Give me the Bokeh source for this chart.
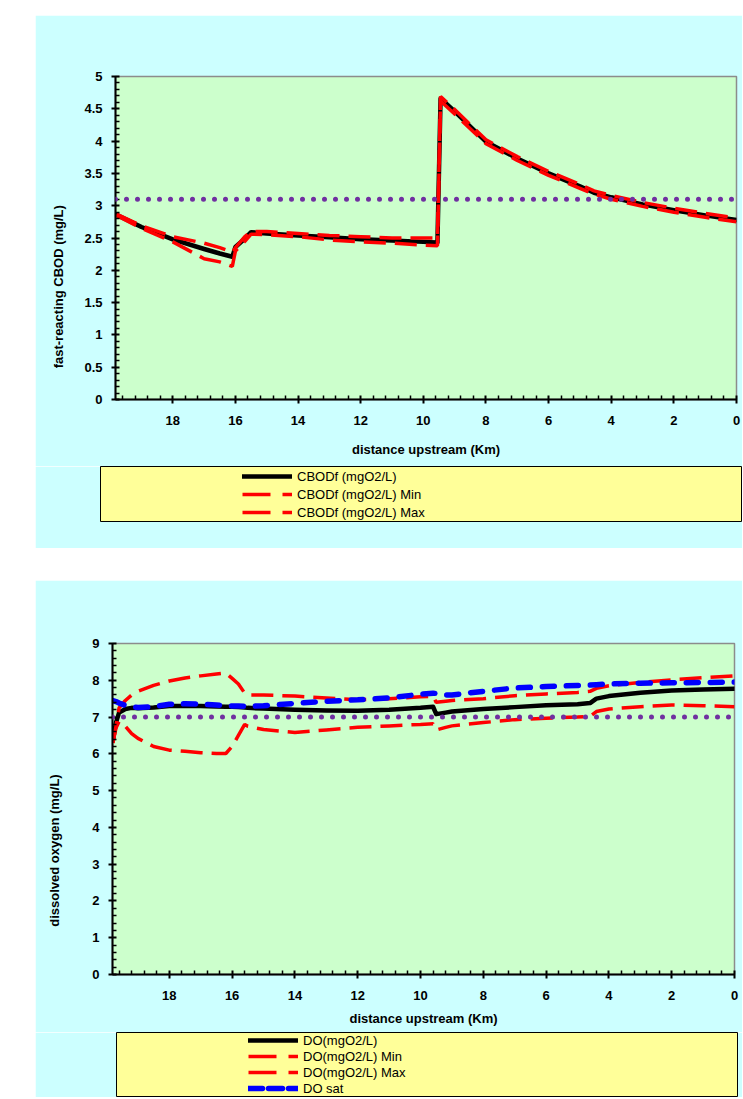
from bokeh.plotting import figure
from bokeh.models import Range1d, FixedTicker, Span, Legend, LegendItem, ColumnDataSource
from bokeh.layouts import column
from bokeh.embed import file_html
from bokeh.resources import INLINE

# ---------------- data ----------------
cbod_km = [19.8, 19.0, 18.0, 17.0, 16.5, 16.1, 16.0, 15.7, 15.5, 15.0, 14.0, 13.0, 12.0, 11.0,
           10.0, 9.55, 9.45, 9.0, 8.0, 7.0, 6.0, 5.0, 4.55, 4.0, 3.0, 2.0, 1.0, 0.0]
cbod_mean = [2.86, 2.67, 2.48, 2.33, 2.26, 2.21, 2.36, 2.49, 2.59, 2.57, 2.54, 2.51, 2.48, 2.46,
             2.44, 2.43, 4.66, 4.46, 3.99, 3.73, 3.50, 3.30, 3.20, 3.13, 3.02, 2.93, 2.85, 2.78]
cbod_min = [2.85, 2.65, 2.44, 2.18, 2.13, 2.06, 2.30, 2.45, 2.56, 2.55, 2.52, 2.47, 2.44, 2.42,
            2.39, 2.38, 4.62, 4.42, 3.96, 3.70, 3.47, 3.27, 3.18, 3.10, 2.99, 2.90, 2.82, 2.75]
cbod_max = [2.87, 2.69, 2.52, 2.42, 2.35, 2.28, 2.35, 2.52, 2.60, 2.60, 2.57, 2.54, 2.52, 2.50,
            2.50, 2.50, 4.69, 4.49, 4.02, 3.76, 3.53, 3.33, 3.23, 3.16, 3.05, 2.96, 2.88, 2.81]
cbod_standard = 3.1

do_km = [19.8, 19.7, 19.6, 19.4, 19.2, 19.0, 18.5, 18.0, 17.5, 17.0, 16.5, 16.2, 16.0, 15.8,
         15.6, 15.5, 15.0, 14.0, 13.0, 12.0, 11.0, 10.0, 9.6, 9.5, 9.2, 9.0, 8.0, 7.0, 6.0,
         5.0, 4.6, 4.4, 4.0, 3.0, 2.0, 1.0, 0.0]
do_mean = [6.36, 6.85, 7.12, 7.22, 7.25, 7.24, 7.26, 7.30, 7.30, 7.30, 7.29, 7.28, 7.28, 7.27,
           7.26, 7.25, 7.23, 7.20, 7.18, 7.17, 7.20, 7.25, 7.28, 7.08, 7.12, 7.15, 7.22, 7.27,
           7.32, 7.35, 7.38, 7.50, 7.57, 7.66, 7.72, 7.75, 7.77]
do_min = [6.30, 6.70, 6.88, 6.75, 6.55, 6.42, 6.20, 6.10, 6.07, 6.03, 6.01, 6.01, 6.20, 6.50,
          6.80, 6.75, 6.66, 6.58, 6.65, 6.72, 6.76, 6.80, 6.82, 6.65, 6.72, 6.76, 6.85, 6.93,
          6.97, 7.00, 7.02, 7.15, 7.22, 7.28, 7.33, 7.31, 7.28]
do_max = [6.30, 6.75, 7.25, 7.45, 7.60, 7.70, 7.86, 7.98, 8.06, 8.12, 8.17, 8.20, 8.05, 7.90,
          7.65, 7.60, 7.60, 7.57, 7.52, 7.47, 7.50, 7.55, 7.57, 7.40, 7.43, 7.45, 7.50, 7.58,
          7.63, 7.67, 7.70, 7.78, 7.85, 7.94, 8.01, 8.07, 8.12]
do_sat = [7.45, 7.42, 7.38, 7.32, 7.28, 7.26, 7.28, 7.35, 7.36, 7.35, 7.33, 7.31, 7.30, 7.30,
          7.29, 7.29, 7.31, 7.37, 7.43, 7.47, 7.52, 7.62, 7.65, 7.64, 7.60, 7.60, 7.70, 7.79,
          7.83, 7.86, 7.87, 7.88, 7.90, 7.92, 7.93, 7.94, 7.95]
do_standard = 7.0

x_tick_values = [0, 2, 4, 6, 8, 10, 12, 14, 16, 18]
x_tick_labels = ["0", "2", "4", "6", "8", "10", "12", "14", "16", "18"]
cbod_tick_values = [0, 0.5, 1, 1.5, 2, 2.5, 3, 3.5, 4, 4.5, 5]
cbod_tick_labels = ["0", "0.5", "1", "1.5", "2", "2.5", "3", "3.5", "4", "4.5", "5"]
do_tick_values = [0, 1, 2, 3, 4, 5, 6, 7, 8, 9]
do_tick_labels = ["0", "1", "2", "3", "4", "5", "6", "7", "8", "9"]

x_title = "distance upstream (Km)"
cbod_title = "fast-reacting CBOD (mg/L)"
do_title = "dissolved oxygen (mg/L)"
cbod_labels = ["CBODf (mgO2/L)", "CBODf (mgO2/L) Min", "CBODf (mgO2/L) Max"]
do_labels = ["DO(mgO2/L)", "DO(mgO2/L) Min", "DO(mgO2/L) Max", "DO sat"]

# ---------------- styles ----------------
CYAN = "#CCFFFF"
GREEN = "#CCFFCC"
YELLOW = "#FFFF99"
PURPLE = "#7030A0"
FONT = "Liberation Sans"
NBSP = "\u00a0"
MEAN_STYLE = dict(line_color="black", line_width=4.5, line_join="round", line_cap="round")
RED_STYLE = dict(line_color="red", line_width=3.5, line_dash="22 9")
RED_KEY_STYLE = dict(line_color="red", line_width=3.5, line_dash="28 12")
BLUE_STYLE = dict(line_color="blue", line_width=5.5, line_dash="12 12", line_cap="round")
BLUE_KEY_STYLE = dict(line_color="blue", line_width=5.5, line_dash="14 6", line_cap="round")
STD_STYLE = dict(line_color=PURPLE, line_width=5, line_dash="0 11", line_cap="round")

x_minor = [round(0.4 * i, 1) for i in range(1, 50) if i % 5 != 0]
cbod_minor = [round(0.1 * i, 1) for i in range(1, 50) if i % 5 != 0]
do_minor = [round(0.2 * i, 1) for i in range(1, 45) if i % 5 != 0]


def make_fig(width, height, x_start, y_end, bl, br, bt, bb):
    p = figure(width=width, height=height, x_range=Range1d(x_start, 0),
               y_range=Range1d(0, y_end), output_backend="svg", toolbar_location=None,
               min_border_left=bl, min_border_right=br, min_border_top=bt,
               min_border_bottom=bb)
    p.frame_align = False
    p.border_fill_color = CYAN
    p.background_fill_color = GREEN
    p.outline_line_color = "#8C8C8C"
    p.outline_line_width = 1.5
    p.xgrid.visible = False
    p.ygrid.visible = False
    for ax in (p.xaxis[0], p.yaxis[0]):
        ax.axis_line_width = 2
        ax.axis_line_color = "black"
        ax.major_tick_in = 4
        ax.major_tick_out = 4
        ax.major_tick_line_width = 2
        ax.minor_tick_in = 4
        ax.minor_tick_out = 0
        ax.minor_tick_line_width = 1.5
        ax.major_label_text_font = FONT
        ax.major_label_text_font_size = "13px"
        ax.major_label_text_font_style = "bold"
        ax.major_label_text_color = "black"
        ax.axis_label_text_font = FONT
        ax.axis_label_text_font_size = "13px"
        ax.axis_label_text_font_style = "bold"
        ax.axis_label_text_color = "black"
    return p


def style_x(p, standoff_title):
    ax = p.xaxis[0]
    ax.ticker = FixedTicker(ticks=x_tick_values, minor_ticks=x_minor)
    ax.major_label_overrides = {float(v): t for v, t in zip(x_tick_values, x_tick_labels)}
    ax.major_label_standoff = 12
    ax.axis_label = x_title
    ax.axis_label_standoff = standoff_title


def style_y(p, ticks, labels, minor, title, shift_spaces, standoff_title):
    ax = p.yaxis[0]
    ax.ticker = FixedTicker(ticks=ticks, minor_ticks=minor)
    ax.major_label_overrides = {float(v): t for v, t in zip(ticks, labels)}
    ax.major_label_standoff = 9
    # the original title sits below the axis centre: pad its far end
    ax.axis_label = title + NBSP * shift_spaces
    ax.axis_label_standoff = standoff_title


def legend_fig(width, height, bl, br, bt, bb, labels, source, columns, styles, loc, row_h):
    # separate key panel; its ranges keep the series themselves out of view
    f = figure(width=width, height=height, x_range=Range1d(100, 101),
               y_range=Range1d(100, 101), x_axis_type=None, y_axis_type=None,
               output_backend="svg", toolbar_location=None, min_border_left=bl,
               min_border_right=br, min_border_top=bt, min_border_bottom=bb)
    f.frame_align = False
    f.border_fill_color = CYAN
    f.background_fill_color = YELLOW
    f.outline_line_color = "black"
    f.outline_line_width = 1
    f.grid.visible = False
    rends = [f.line("km", c, source=source, **s) for c, s in zip(columns, styles)]
    leg = Legend(items=[LegendItem(label=l, renderers=[r]) for l, r in zip(labels, rends)],
                 location=loc, orientation="vertical", padding=0, spacing=0, margin=0,
                 glyph_width=50, glyph_height=row_h, label_height=row_h, label_standoff=5,
                 label_text_font=FONT, label_text_font_size="13px",
                 label_text_color="black", background_fill_alpha=0, border_line_alpha=0)
    f.add_layout(leg)
    return f


# ---------------- top chart ----------------
p1 = make_fig(707, 451, 19.83, 5, 80, 6, 61, 67)
style_x(p1, 14)
style_y(p1, cbod_tick_values, cbod_tick_labels, cbod_minor, cbod_title, 27, 15)
src1 = ColumnDataSource(dict(km=cbod_km, mean=cbod_mean, mn=cbod_min, mx=cbod_max))
p1.line("km", "mean", source=src1, **MEAN_STYLE)
p1.line("km", "mn", source=src1, **RED_STYLE)
p1.line("km", "mx", source=src1, **RED_STYLE)
p1.add_layout(Span(location=cbod_standard, dimension="width", **STD_STYLE))
lf1 = legend_fig(707, 82, 65, 0, 0, 27, cbod_labels, src1, ["mean", "mn", "mx"],
                 [MEAN_STYLE, RED_KEY_STYLE, RED_KEY_STYLE], (142, 0), 18)

# ---------------- bottom chart ----------------
p2 = make_fig(707, 452, 19.81, 9, 77, 8, 63, 58)
style_x(p2, 8)
style_y(p2, do_tick_values, do_tick_labels, do_minor, do_title, 23, 27)
src2 = ColumnDataSource(dict(km=do_km, mean=do_mean, mn=do_min, mx=do_max, sat=do_sat))
p2.line("km", "mean", source=src2, **MEAN_STYLE)
p2.line("km", "mn", source=src2, **RED_STYLE)
p2.line("km", "mx", source=src2, **RED_STYLE)
p2.line("km", "sat", source=src2, **BLUE_STYLE)
p2.add_layout(Span(location=do_standard, dimension="width", **STD_STYLE))
lf2 = legend_fig(707, 65, 81, 5, 0, 1, do_labels, src2, ["mean", "mn", "mx", "sat"],
                 [MEAN_STYLE, RED_KEY_STYLE, RED_KEY_STYLE, BLUE_KEY_STYLE], (132, 0), 16)

p1.margin = (15, 0, 0, 35)
lf1.margin = (0, 0, 0, 35)
p2.margin = (32, 0, 0, 35)
lf2.margin = (0, 0, 0, 35)
layout = column(p1, lf1, p2, lf2)

open("out.html", "w").write(file_html(layout, INLINE))
